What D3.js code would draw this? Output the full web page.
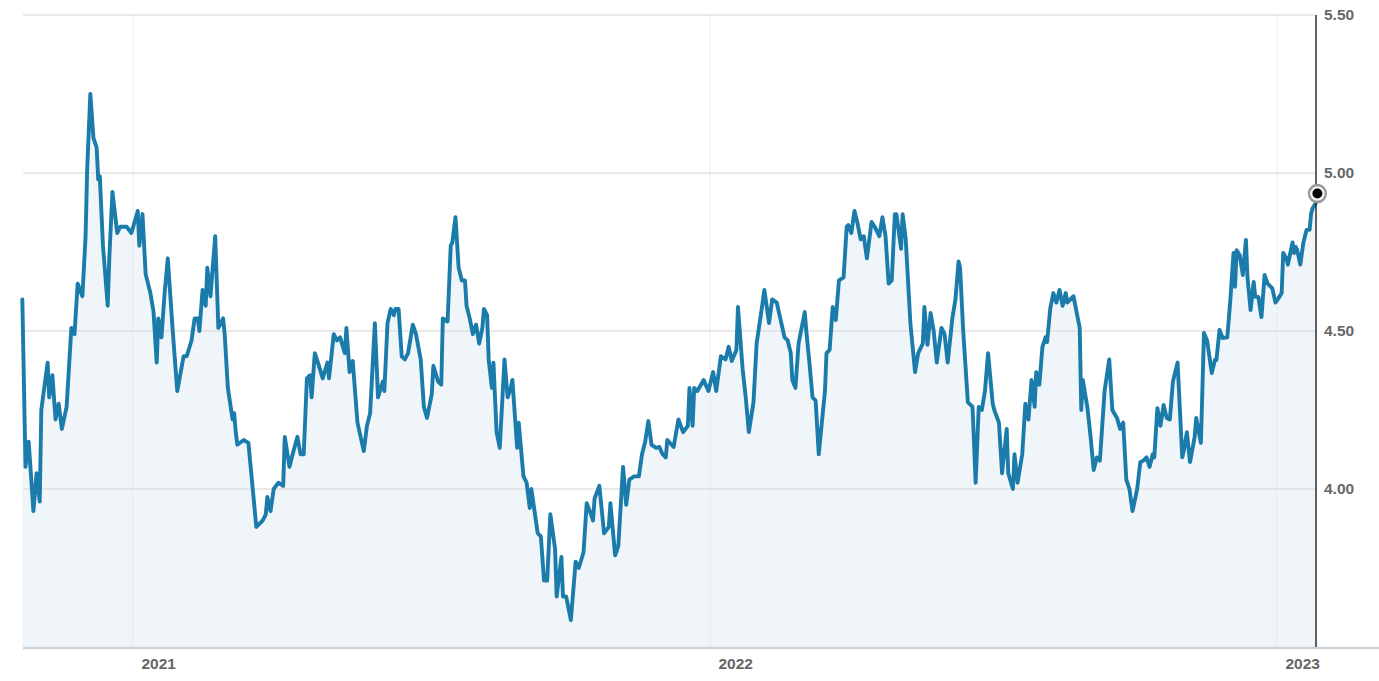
<!DOCTYPE html>
<html><head><meta charset="utf-8">
<script src="https://cdn.jsdelivr.net/npm/d3@7"></script>
<style>
html,body{margin:0;padding:0;background:#fff;}
svg{display:block;}
text{font-family:"Liberation Sans",Arial,sans-serif;font-weight:bold;fill:#666;}
</style></head>
<body>
<svg id="chart" width="1379" height="681"></svg>
<script>
// Day offsets relative to 2021-01-01
const baseDate = "2021-01-01";
const dayOffsets = [
-70,-68,-66,-63,-61,-59,-58,-54,-53,-51,
-49,-47,-45,-42,-39,-37,-35,-32,-30,-29,
-27,-25,-23,-22,-21,-19,-16,-15,-13,-10,
-8,-4,-1,3,4,6,8,11,13,15,
16,18,20,22,25,28,32,34,37,39,
41,42,44,46,47,49,52,54,57,58,
60,63,64,65,66,70,73,75,78,82,
84,85,87,89,92,95,96,99,101,104,
106,108,110,112,113,115,117,120,123,124,
127,129,131,134,135,137,139,142,146,148,
150,153,155,158,159,161,163,165,166,168,
170,172,174,177,179,182,184,186,189,190,
193,195,196,199,201,202,204,206,208,210,
211,213,215,217,219,221,222,224,225,227,
228,230,232,235,237,239,240,243,244,247,
249,251,252,256,258,260,262,264,267,268,
271,272,274,277,280,282,285,287,289,291,
292,295,298,301,302,305,307,310,312,314,
317,320,322,324,326,328,331,333,335,337,
338,342,345,348,351,352,354,355,357,361,
364,
367,369,372,375,377,379,382,383,386,388,
390,393,395,398,400,403,405,408,410,413,
415,417,418,420,422,424,426,427,429,431,
433,435,437,439,440,442,444,446,448,451,
453,454,456,458,460,462,464,466,469,471,
474,476,478,480,482,484,485,488,489,491,
494,497,499,502,503,505,507,509,511,514,
516,518,521,523,525,526,528,531,534,536,
538,540,542,544,547,548,551,553,556,557,
560,561,563,566,568,570,572,574,575,577,
579,581,582,584,586,588,590,592,594,595,
599,601,603,604,605,608,610,612,614,616,
619,622,624,627,629,631,633,635,637,640,
642,644,646,648,650,651,653,655,657,659,
661,663,666,669,670,672,674,677,678,681,
683,685,688,690,691,693,695,698,700,702,
703,704,706,708,710,711,713,715,716,718,
720,722,724,727,729,731,733,734,736,737,
740,741,742,743,745,747,749,751,752,753,
755,756
];
const rates = [
4.60,4.07,4.15,3.93,4.05,3.96,4.25,4.40,4.29,4.36,
4.22,4.27,4.19,4.26,4.51,4.49,4.65,4.61,4.80,5.01,
5.25,5.11,5.08,4.98,4.99,4.77,4.58,4.73,4.94,4.81,
4.83,4.83,4.81,4.88,4.77,4.87,4.68,4.62,4.56,4.40,
4.54,4.48,4.62,4.73,4.51,4.31,4.42,4.42,4.47,4.54,
4.54,4.50,4.63,4.58,4.70,4.61,4.80,4.51,4.54,4.49,
4.32,4.22,4.24,4.18,4.14,4.155,4.146,4.04,3.88,3.90,
3.92,3.975,3.93,4.00,4.02,4.01,4.165,4.07,4.11,4.165,
4.11,4.11,4.35,4.36,4.29,4.43,4.40,4.35,4.40,4.35,
4.49,4.47,4.48,4.43,4.51,4.37,4.405,4.21,4.12,4.20,
4.24,4.525,4.29,4.34,4.31,4.525,4.57,4.55,4.57,4.57,
4.42,4.41,4.43,4.52,4.49,4.41,4.26,4.225,4.30,4.39,
4.34,4.33,4.54,4.53,4.77,4.78,4.86,4.70,4.66,4.66,
4.58,4.54,4.49,4.52,4.46,4.51,4.57,4.55,4.41,4.32,
4.40,4.18,4.13,4.41,4.29,4.32,4.345,4.13,4.21,4.04,
4.02,3.94,4.00,3.86,3.85,3.71,3.71,3.92,3.81,3.66,
3.785,3.66,3.66,3.585,3.77,3.75,3.80,3.955,3.93,3.90,
3.97,4.01,3.86,3.88,3.955,3.79,3.82,4.07,3.95,4.03,
4.04,4.04,4.11,4.15,4.215,4.14,4.13,4.133,4.11,4.10,
4.155,4.133,4.22,4.18,4.20,4.32,4.20,4.32,4.31,4.345,
4.31,
4.37,4.31,4.42,4.41,4.45,4.405,4.44,4.576,4.38,4.29,
4.18,4.275,4.46,4.56,4.63,4.525,4.60,4.59,4.545,4.48,
4.47,4.43,4.345,4.32,4.46,4.51,4.56,4.50,4.40,4.29,
4.28,4.11,4.21,4.31,4.43,4.44,4.576,4.535,4.66,4.67,
4.83,4.835,4.81,4.88,4.84,4.79,4.80,4.73,4.845,4.83,
4.80,4.86,4.80,4.65,4.66,4.87,4.87,4.76,4.87,4.79,
4.525,4.37,4.43,4.46,4.576,4.456,4.557,4.50,4.40,4.51,
4.49,4.40,4.54,4.60,4.72,4.70,4.50,4.275,4.26,4.02,
4.26,4.25,4.31,4.43,4.27,4.25,4.21,4.05,4.19,4.05,
4.00,4.11,4.02,4.11,4.27,4.22,4.345,4.26,4.37,4.33,
4.45,4.48,4.465,4.57,4.62,4.59,4.63,4.58,4.62,4.59,
4.61,4.56,4.51,4.25,4.345,4.256,4.165,4.06,4.10,4.09,
4.31,4.41,4.25,4.225,4.19,4.21,4.03,4.00,3.93,4.00,
4.085,4.09,4.10,4.07,4.11,4.10,4.256,4.20,4.266,4.225,
4.22,4.34,4.40,4.10,4.12,4.18,4.085,4.165,4.225,4.146,
4.494,4.47,4.367,4.408,4.408,4.503,4.478,4.48,4.60,4.747,
4.64,4.756,4.74,4.677,4.788,4.67,4.566,4.655,4.608,4.608,
4.544,4.677,4.65,4.635,4.59,4.604,4.62,4.747,4.73,4.71,
4.78,4.747,4.766,4.756,4.71,4.78,4.82,4.82,4.873,4.889,
4.905,4.935
];
const yTicks = [4.0, 4.5, 5.0, 5.5];
const yearTicks = ["2021-01-01", "2022-01-01", "2023-01-01"];
const yDomain = [3.5, 5.5];

const parse = d3.timeParse("%Y-%m-%d");
const base = parse(baseDate);
const n = Math.min(dayOffsets.length, rates.length);
const data = d3.range(n).map(i => ({date: d3.timeDay.offset(base, dayOffsets[i]), value: rates[i]}));

const svg = d3.select("#chart");
const pLeft = 23, pRight = 1316, pTop = 15, pBottom = 647;

const yearDates = yearTicks.map(parse);
const x = d3.scaleTime().domain(yearDates).range([133, 710, 1277]);
const y = d3.scaleLinear().domain(yDomain).range([pBottom, pTop]);

const g = svg.append("g");

// area
const area = d3.area().x(d => x(d.date)).y0(pBottom).y1(d => y(d.value));
g.append("path").datum(data).attr("d", area).attr("fill", "#f0f5fa");

// vertical gridlines
g.selectAll("line.vgrid").data(yearDates).join("line")
  .attr("x1", d => x(d)).attr("x2", d => x(d))
  .attr("y1", pTop).attr("y2", pBottom)
  .attr("stroke", "#e8ecf0").attr("stroke-width", 1);

// horizontal gridlines
g.selectAll("line.hgrid").data(yTicks).join("line")
  .attr("x1", pLeft).attr("x2", pRight)
  .attr("y1", d => y(d)).attr("y2", d => y(d))
  .attr("stroke", "#d6d6d6").attr("stroke-width", 1.2);

// line
const line = d3.line().x(d => x(d.date)).y(d => y(d.value));
g.append("path").datum(data).attr("d", line)
  .attr("fill", "none").attr("stroke", "#1b7cab").attr("stroke-width", 3.9)
  .attr("stroke-linejoin", "round").attr("stroke-linecap", "round");

// bottom axis baseline
svg.append("line").attr("x1", pLeft).attr("x2", 1379).attr("y1", pBottom + 1).attr("y2", pBottom + 1)
  .attr("stroke", "#c9d3dc").attr("stroke-width", 2.6);

// right axis
const yAxis = d3.axisRight(y).tickValues(yTicks).tickFormat(d3.format(".2f")).tickSize(0).tickPadding(8);
const ya = svg.append("g").attr("transform", `translate(${pRight},0)`).call(yAxis);
ya.select(".domain").remove();
ya.selectAll("text").attr("font-size", 15.5).attr("font-family", "Liberation Sans, Arial, sans-serif").attr("font-weight", "bold").attr("fill", "#666");
svg.append("line").attr("x1", pRight).attr("x2", pRight).attr("y1", pTop).attr("y2", pBottom)
  .attr("stroke", "#222").attr("stroke-width", 1.4);

// x axis labels
const xAxis = d3.axisBottom(x).tickValues(yearDates).tickFormat(d3.timeFormat("%Y")).tickSize(0).tickPadding(0);
const xa = svg.append("g").attr("transform", `translate(0,${pBottom})`).call(xAxis);
xa.select(".domain").remove();
xa.selectAll("text").attr("text-anchor", "start").attr("dx", 8).attr("y", 22).attr("dy", 0)
  .attr("font-size", 15.5).attr("font-family", "Liberation Sans, Arial, sans-serif").attr("font-weight", "bold").attr("fill", "#666");

// end marker
const last = data[data.length - 1];
svg.append("circle").attr("cx", x(last.date)).attr("cy", y(last.value)).attr("r", 8.5)
  .attr("fill", "#f4f4f4").attr("stroke", "#999").attr("stroke-width", 2.4);
svg.append("circle").attr("cx", x(last.date)).attr("cy", y(last.value)).attr("r", 5).attr("fill", "#000");
</script>
</body></html>
